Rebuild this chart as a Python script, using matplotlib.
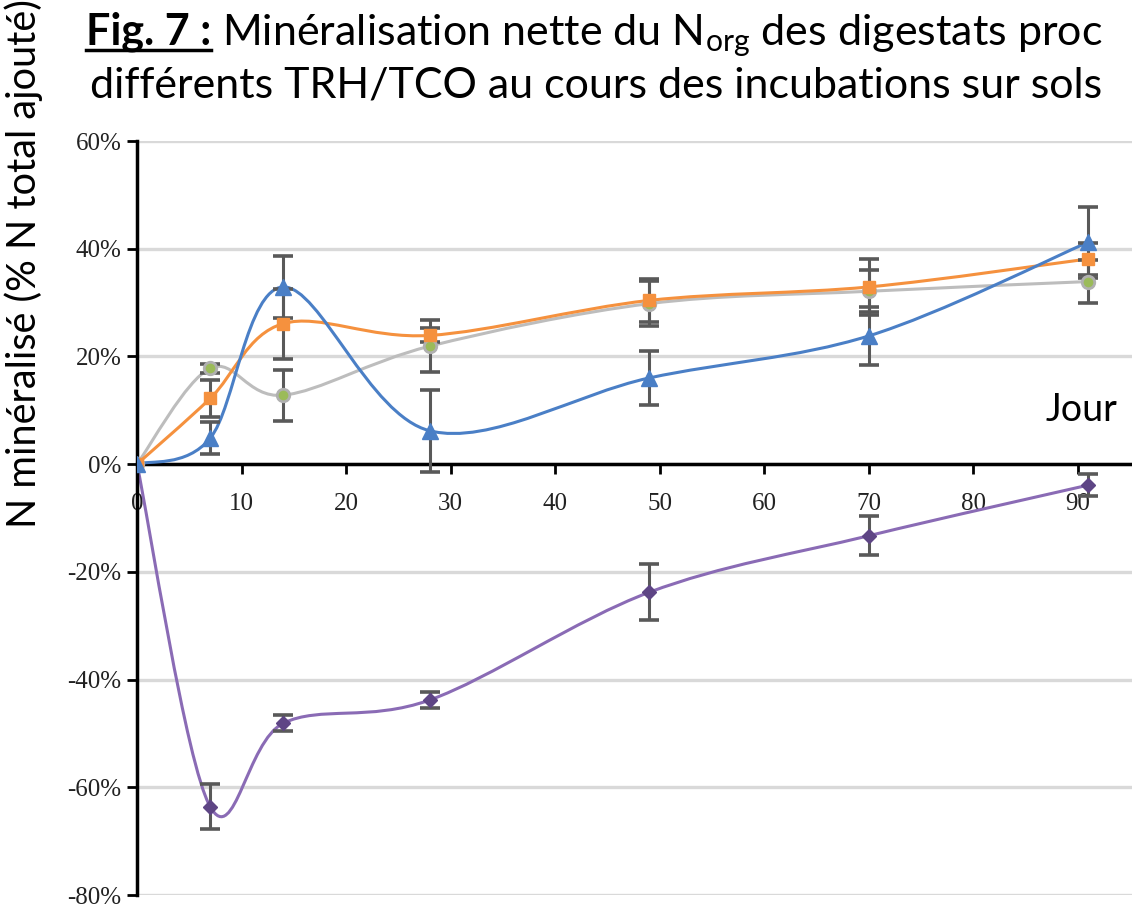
import numpy as np
import matplotlib
matplotlib.use("Agg")
import matplotlib.pyplot as plt
from matplotlib.path import Path
from matplotlib.patches import PathPatch
from matplotlib.lines import Line2D

# jours d'incubation
jours = [0, 7, 14, 28, 49, 70, 91]

# N mineralise (fraction du N total ajoute) et ecarts-types
bleu = [0.0, 0.048, 0.329, 0.062, 0.160, 0.238, 0.412]
bleu_err = [0.0, 0.030, 0.057, 0.076, 0.050, 0.053, 0.066]
orange = [0.0, 0.122, 0.261, 0.239, 0.304, 0.329, 0.381]
orange_err = [0.0, 0.034, 0.065, 0.013, 0.040, 0.052, 0.030]
gris = [0.0, 0.178, 0.128, 0.219, 0.298, 0.321, 0.339]
gris_err = [0.0, 0.008, 0.047, 0.048, 0.042, 0.039, 0.040]
violet = [0.0, -0.636, -0.481, -0.438, -0.238, -0.133, -0.039]
violet_err = [0.0, 0.042, 0.015, 0.015, 0.052, 0.036, 0.020]

yticks = [-0.8, -0.6, -0.4, -0.2, 0.0, 0.2, 0.4, 0.6]
xticks = [0, 10, 20, 30, 40, 50, 60, 70, 80, 90]

SANS = "Lato"
SERIF = "Liberation Serif"
plt.rcParams["mathtext.fontset"] = "custom"
plt.rcParams["mathtext.rm"] = SANS


def courbe_lissee(ax, x, y, color, lw=2.2, z=2):
    # lissage type Excel : bezier avec points de controle catmull-rom
    pts = np.column_stack([x, y]).astype(float)
    n = len(pts)
    verts = [pts[0]]
    codes = [Path.MOVETO]
    for i in range(n - 1):
        p0 = pts[max(i - 1, 0)]
        p1 = pts[i]
        p2 = pts[i + 1]
        p3 = pts[min(i + 2, n - 1)]
        verts += [p1 + (p2 - p0) / 6, p2 - (p3 - p1) / 6, p2]
        codes += [Path.CURVE4] * 3
    patch = PathPatch(Path(verts, codes), facecolor="none", edgecolor=color,
                      lw=lw, zorder=z, capstyle="round")
    ax.add_patch(patch)


fig = plt.figure(figsize=(11.32, 9.07), dpi=100)
ax = fig.add_axes([137 / 1132, 12 / 907, 1 - 137 / 1132, 754 / 907])
ax.set_xlim(0, 95.2)
ax.set_ylim(-0.8, 0.6)

for v in yticks:
    ax.axhline(v, color="#d9d9d9", lw=2.4, zorder=0)

series = [
    (violet, violet_err, "#8a6bb5", dict(marker="D", ms=7, mfc="#5e4585", mec="#5e4585")),
    (gris, gris_err, "#bdbdbd", dict(marker="o", ms=9, mfc="#9bbb59", mec="#b0b0b0", mew=2)),
    (orange, orange_err, "#f5913e", dict(marker="s", ms=8, mfc="#f5913e", mec="#f5913e")),
    (bleu, bleu_err, "#4a7fc6", dict(marker="^", ms=11, mfc="#4a7fc6", mec="#4a7fc6")),
]
for k, (vals, err, col, mk) in enumerate(series):
    courbe_lissee(ax, jours, vals, col, z=2 + k)
    ax.errorbar(jours[1:], vals[1:], yerr=err[1:], fmt="none", ecolor="#595959",
                elinewidth=2.2, capsize=7, capthick=2.6, zorder=6 + k)
    ax.plot(jours, vals, ls="none", zorder=10 + k, **mk)

ax.spines["top"].set_visible(False)
ax.spines["right"].set_visible(False)
ax.spines["bottom"].set_position(("data", 0))
ax.spines["bottom"].set_linewidth(2.5)
ax.spines["left"].set_linewidth(2.5)
ax.spines["bottom"].set_zorder(1)

ax.set_xticks(xticks)
ax.set_yticks(yticks)
ax.set_yticklabels([f"{round(v * 100)}%" for v in yticks])
ax.tick_params(axis="x", direction="out", length=7, width=2, pad=14,
               labelsize=18)
ax.tick_params(axis="y", direction="out", length=7, width=2, pad=4,
               labelsize=18)
for lab in ax.get_xticklabels() + ax.get_yticklabels():
    lab.set_fontfamily(SERIF)
    lab.set_color("#222222")

ax.text(93.8, 0.08, "Jour", fontsize=27, family=SANS, ha="right",
        va="baseline")

fig.text(43 / 1132, 1 - 528 / 907, "N minéralisé (% N total ajouté)",
         rotation=90, fontsize=28.5, family=SANS, ha="right", va="bottom")

# titre sur deux lignes (coupe au bord droit comme l'original)
fig.canvas.draw()
r = fig.canvas.get_renderer()
x0 = 86 / 1132
y1 = 1 - 45 / 907
y2 = 1 - 97 / 907
t1 = fig.text(x0, y1, "Fig. 7 :", fontsize=31, family=SANS, weight="bold",
              va="baseline")
bb = t1.get_window_extent(r)
fig.add_artist(Line2D([bb.x0 / 1132, bb.x1 / 1132], [y1 - 5 / 907] * 2,
                      transform=fig.transFigure, color="black", lw=2.5))
fig.text(bb.x1 / 1132, y1, " Minéralisation nette du N$_{\\rm org}$ des digestats proc",
         fontsize=31, family=SANS, va="baseline")
fig.text(x0 + 4 / 1132, y2, "différents TRH/TCO au cours des incubations sur sols",
         fontsize=31, family=SANS, va="baseline")

fig.savefig("out.png", dpi=100)
